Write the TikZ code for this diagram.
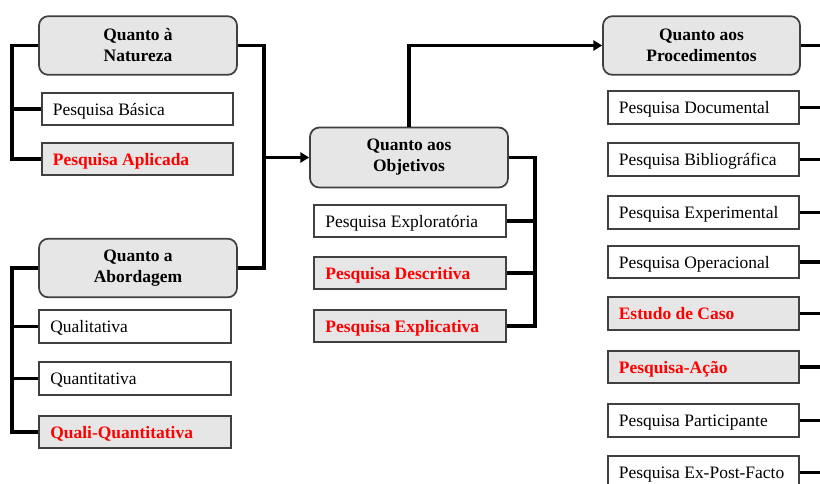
\documentclass[tikz,border=0pt]{standalone}
\usepackage{fontspec}
\setmainfont{Liberation Serif}
\usetikzlibrary{arrows.meta}
\definecolor{boxgray}{HTML}{E6E6E6}
\definecolor{edge}{HTML}{404040}
\definecolor{hired}{HTML}{FF0000}
\newcommand\leaftext[1]{\makebox[127pt][l]{#1}}
\tikzset{
  hdr/.style={draw=edge, line width=1.3pt, fill=boxgray, rounded corners=7pt,
    minimum width=148.5pt, minimum height=44pt, align=center,
    font=\fontsize{13.1}{15.8}\selectfont\bfseries, inner sep=0pt},
  leaf/.style={draw=edge, line width=1.3pt, fill=white,
    minimum width=143.5pt, minimum height=24.5pt, inner xsep=8pt, inner ysep=0pt,
    text height=10pt, text depth=1pt,
    font=\fontsize{13.1}{15.8}\selectfont},
  hot/.style={leaf, fill=boxgray, text=hired, font=\fontsize{13.1}{15.8}\selectfont\bfseries},
  conn/.style={line width=2.6pt, black},
  arr/.style={conn, -{Triangle[length=6.5pt,width=7.5pt]}}
}
\begin{document}
\begin{tikzpicture}[x=0.75pt,y=-0.75pt]
\clip (0,0) rectangle (820,483);
\fill[white] (0,0) rectangle (820,483);

% headers (centres 1.5px lower so the two lines sit as in the reference)
\node[hdr] (nat) at (138,45.5) {Quanto à\\Natureza};
\node[hdr] (abo) at (138,268) {Quanto a\\Abordagem};
\node[hdr, minimum height=45pt] (obj) at (409,157.5) {Quanto aos\\Objetivos};
\node[hdr, minimum width=147.75pt] (proc) at (701.5,45.5) {Quanto aos\\Procedimentos};

% Natureza leaves
\node[leaf] (bas) at (137.5,109) {\leaftext{Pesquisa Básica}};
\node[hot] (apl) at (137.5,159) {\leaftext{Pesquisa Aplicada}};

% Abordagem leaves
\node[leaf] (qual) at (135,326.5) {\leaftext{Qualitativa}};
\node[leaf] (quan) at (135,378.5) {\leaftext{Quantitativa}};
\node[hot] (qq) at (135,432) {\leaftext{Quali-Quantitativa}};

% Objetivos leaves
\node[leaf] (expl) at (410,221) {\leaftext{Pesquisa Exploratória}};
\node[hot] (desc) at (410,273) {\leaftext{Pesquisa Descritiva}};
\node[hot] (expli) at (410,326) {\leaftext{Pesquisa Explicativa}};

% Procedimentos leaves
\node[leaf] (doc) at (703.5,107.5) {\leaftext{Pesquisa Documental}};
\node[leaf] (bib) at (703.5,159.5) {\leaftext{Pesquisa Bibliográfica}};
\node[leaf] (expe) at (703.5,212.5) {\leaftext{Pesquisa Experimental}};
\node[leaf] (oper) at (703.5,262) {\leaftext{Pesquisa Operacional}};
\node[hot] (caso) at (703.5,313.5) {\leaftext{Estudo de Caso}};
\node[hot] (acao) at (703.5,367) {\leaftext{Pesquisa-Ação}};
\node[leaf] (part) at (703.5,420.5) {\leaftext{Pesquisa Participante}};
\node[leaf] (expf) at (703.5,472.5) {\leaftext{Pesquisa Ex-Post-Facto}};

% junction coordinates
\coordinate (j1) at ([xshift=-33.75pt]obj.west);
\coordinate (jn) at ([xshift=-19.5pt]nat.west);
\coordinate (ja) at ([xshift=-19.5pt]abo.west);
\coordinate (jo) at ([xshift=19.5pt]obj.east);

% Natureza bracket
\draw[conn] (nat.west) -- (jn) |- (apl.west);
\draw[conn] (bas.west) -- (bas.west -| jn);

% Natureza/Abordagem to Objetivos
\draw[conn] (nat.east) -| (j1) |- (abo.east);
\draw[arr] (j1) -- (obj.west);

% Abordagem bracket
\draw[conn] (abo.west) -- (ja) |- (qq.west);
\draw[conn] (qual.west) -- (qual.west -| ja);
\draw[conn] (quan.west) -- (quan.west -| ja);

% Objetivos bracket
\draw[conn] (obj.east) -- (jo) |- (expli.east);
\draw[conn] (expl.east) -- (expl.east -| jo);
\draw[conn] (desc.east) -- (desc.east -| jo);

% Objetivos to Procedimentos
\draw[arr] (obj.north) |- (proc.west);

% Procedimentos stubs to the right edge
\coordinate (rt) at (830,0);
\foreach \n in {proc,doc,bib,expe,oper,caso,acao,part,expf}{
  \draw[conn] (\n.east) -- (\n.east -| rt);
}
\end{tikzpicture}
\end{document}
